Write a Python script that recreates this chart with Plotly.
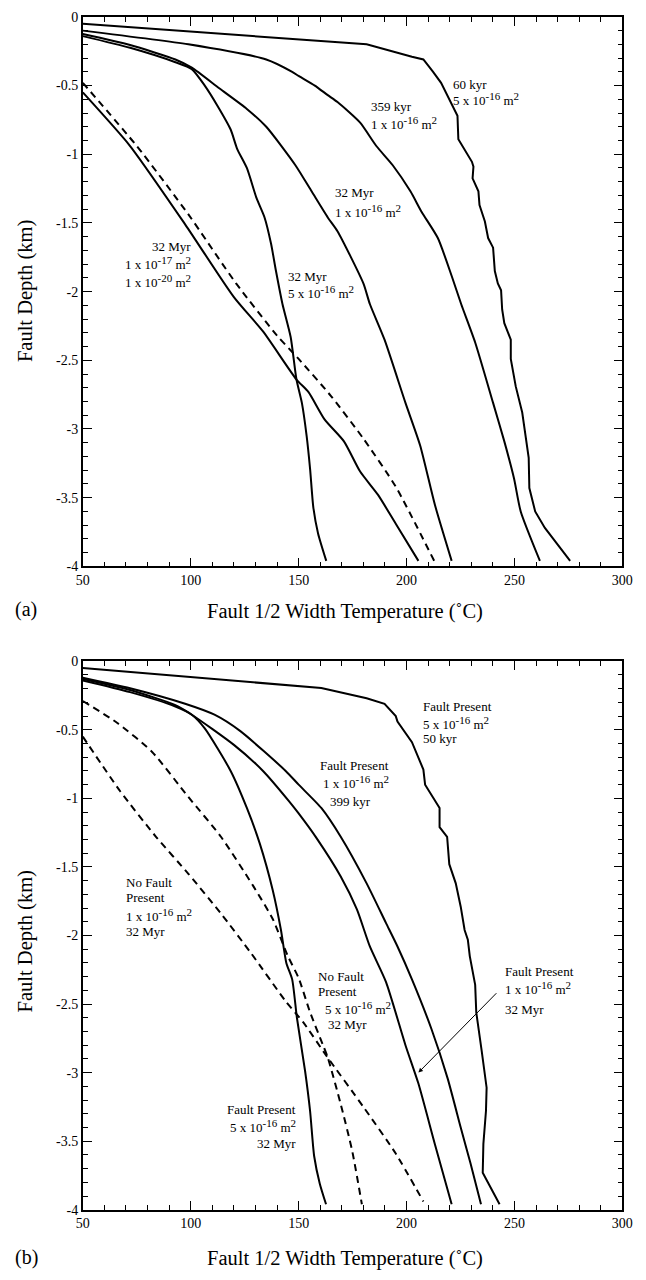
import plotly.graph_objects as go

# ---------------- data (temperature degC, depth km) ----------------
# Panel (a)
a_60kyr_5e16_T = [50, 163.5, 181.5, 202.5, 207.8, 212.3, 216, 223.6, 224, 230.3, 231, 230.6, 233.3, 233.8, 236.3,
                  237.8, 240.1, 240.9, 242.3, 243.8, 244.3, 245.3, 248.3, 248.3, 250.6, 253.6, 255.1, 256.6, 256.9,
                  259.6, 264.1, 270.1, 275.8]
a_60kyr_5e16_D = [-0.05, -0.18, -0.2, -0.29, -0.31, -0.40, -0.48, -0.72, -0.89, -1.055, -1.09, -1.175, -1.27, -1.37,
                  -1.49, -1.61, -1.68, -1.85, -1.94, -1.99, -2.13, -2.23, -2.35, -2.49, -2.69, -2.88, -3.05, -3.21,
                  -3.43, -3.60, -3.72, -3.84, -3.96]

a_359kyr_1e16_T = [50, 98.9, 135, 147, 150, 157.5, 163.5, 168, 178.5, 186, 193.6, 201.8, 207, 214.5, 221, 225.3,
                   231.8, 240.1, 245.3, 249.8, 252.9, 261.8]
a_359kyr_1e16_D = [-0.10, -0.20, -0.31, -0.40, -0.43, -0.50, -0.57, -0.62, -0.77, -0.94, -1.08, -1.27, -1.42, -1.61,
                   -1.89, -2.09, -2.37, -2.81, -3.09, -3.36, -3.60, -3.96]

a_32Myr_1e16_T = [50, 71.9, 92.9, 100.5, 113.2, 126, 135, 148.5, 156, 163.5, 168, 180, 183, 189.8, 199.5, 206.3,
                  213.1, 220.9]
a_32Myr_1e16_D = [-0.125, -0.205, -0.31, -0.37, -0.52, -0.67, -0.80, -1.08, -1.27, -1.46, -1.56, -1.94, -2.09, -2.35,
                  -2.81, -3.12, -3.55, -3.96]

a_32Myr_5e16_T = [50, 71.9, 92.9, 100.5, 106.5, 112.5, 118.5, 121.5, 126, 130.5, 134.2, 137.2, 139.5, 142.5, 146.3,
                  149, 151.5, 153.7, 155.3, 156.8, 159, 162.8]
a_32Myr_5e16_D = [-0.14, -0.225, -0.33, -0.38, -0.50, -0.65, -0.82, -0.96, -1.10, -1.32, -1.46, -1.65, -1.85, -2.09,
                  -2.33, -2.64, -2.81, -3.05, -3.29, -3.57, -3.76, -3.96]

a_32Myr_1e17_T = [50, 71.9, 97.4, 120, 133.5, 149, 154.5, 162, 171, 178.5, 186.8, 195, 205.5]
a_32Myr_1e17_D = [-0.55, -0.94, -1.51, -2.04, -2.29, -2.64, -2.73, -2.93, -3.09, -3.31, -3.48, -3.69, -3.96]

a_32Myr_1e20_T = [50, 75, 99, 121, 140, 150, 165, 180, 195, 212.8]
a_32Myr_1e20_D = [-0.48, -0.94, -1.44, -1.94, -2.32, -2.49, -2.76, -3.07, -3.42, -3.96]

# Panel (b)
b_fault_5e16_50kyr_T = [50, 150, 160.5, 181.5, 189.8, 195, 195.8, 202.5, 207.8, 208.6, 215.3, 215.3, 218.8, 219.8,
                        222.8, 225.1, 226.9, 228.4, 229.3, 231.8, 232.3, 234.8, 237.1, 236.8, 235.6, 235.3, 238.6,
                        243.1]
b_fault_5e16_50kyr_D = [-0.05, -0.178, -0.195, -0.27, -0.31, -0.40, -0.44, -0.59, -0.79, -0.90, -1.07, -1.21, -1.28,
                        -1.48, -1.62, -1.79, -1.96, -2.03, -2.15, -2.36, -2.56, -2.84, -3.11, -3.28, -3.52, -3.73,
                        -3.83, -3.96]

b_fault_1e16_399kyr_T = [50, 71.9, 97.4, 111, 123, 144, 150, 160.5, 169.5, 181.5, 190.5, 195.8, 202.5, 211.5, 219,
                         225.1, 229.6, 234.5]
b_fault_1e16_399kyr_D = [-0.12, -0.197, -0.31, -0.39, -0.51, -0.80, -0.90, -1.07, -1.28, -1.62, -1.91, -2.08, -2.32,
                         -2.68, -3.04, -3.40, -3.66, -3.96]

b_fault_1e16_32Myr_T = [50, 71.9, 92.9, 100.5, 120, 133.5, 145.5, 150, 158.3, 169.5, 177, 183, 190.5, 199.5, 205.5,
                        213.1, 220.9]
b_fault_1e16_32Myr_D = [-0.13, -0.21, -0.32, -0.39, -0.61, -0.80, -1.02, -1.11, -1.29, -1.57, -1.81, -2.08, -2.34,
                        -2.80, -3.08, -3.52, -3.96]

b_fault_5e16_32Myr_T = [50, 71.9, 92.9, 100.5, 106.5, 118.5, 126, 132, 138, 141.8, 144.3, 147, 149.2, 153, 155.3,
                        157.2, 159.8, 162.7]
b_fault_5e16_32Myr_D = [-0.14, -0.225, -0.33, -0.39, -0.49, -0.80, -1.07, -1.33, -1.67, -1.96, -2.20, -2.32, -2.60,
                        -2.99, -3.28, -3.61, -3.81, -3.96]

b_nofault_5e16_T = [50, 66, 82, 98.9, 114, 129, 138, 145, 150, 155.3, 161.3, 163.5, 169.5, 174.8, 179.3]
b_nofault_5e16_D = [-0.29, -0.45, -0.66, -0.99, -1.28, -1.64, -1.88, -2.15, -2.31, -2.56, -2.80, -2.89, -3.23, -3.57,
                    -3.96]

b_nofault_1e16_T = [50, 67.4, 83.9, 98.9, 114, 128, 144, 152, 163, 180, 195, 207.8]
b_nofault_1e16_D = [-0.55, -0.95, -1.28, -1.55, -1.84, -2.13, -2.48, -2.63, -2.88, -3.25, -3.59, -3.94]

# tick labels
x_tick_values = [50, 100, 150, 200, 250, 300]
x_tick_labels = ["50", "100", "150", "200", "250", "300"]
y_tick_values = [0, -0.5, -1, -1.5, -2, -2.5, -3, -3.5, -4]
y_tick_labels = ["0", "-0.5", "-1", "-1.5", "-2", "-2.5", "-3", "-3.5", "-4"]


def perm(coef, exp):
    return (f"{coef} x 10<sup><span style='font-size:11px'>{exp}</span></sup>"
            f" m<sup><span style='font-size:11px'>2</span></sup>")


E16_5 = perm(5, "-16")
E16_1 = perm(1, "-16")
E17_1 = perm(1, "-17")
E20_1 = perm(1, "-20")

# ---------------- figure ----------------
FONT = "Liberation Serif, DejaVu Serif, serif"
W, H = 646, 1280
fig = go.Figure()

solid = dict(color="black", width=2)
solid_s = dict(color="black", width=2, shape="spline", smoothing=0.6)
dashed_s = dict(color="black", width=2, dash="7px,5px", shape="spline", smoothing=0.6)

panel_a = [
    (a_60kyr_5e16_T, a_60kyr_5e16_D, solid),
    (a_359kyr_1e16_T, a_359kyr_1e16_D, solid_s),
    (a_32Myr_1e16_T, a_32Myr_1e16_D, solid_s),
    (a_32Myr_5e16_T, a_32Myr_5e16_D, solid_s),
    (a_32Myr_1e17_T, a_32Myr_1e17_D, solid_s),
    (a_32Myr_1e20_T, a_32Myr_1e20_D, dashed_s),
]
panel_b = [
    (b_fault_5e16_50kyr_T, b_fault_5e16_50kyr_D, solid),
    (b_fault_1e16_399kyr_T, b_fault_1e16_399kyr_D, solid_s),
    (b_fault_1e16_32Myr_T, b_fault_1e16_32Myr_D, solid_s),
    (b_fault_5e16_32Myr_T, b_fault_5e16_32Myr_D, solid_s),
    (b_nofault_5e16_T, b_nofault_5e16_D, dashed_s),
    (b_nofault_1e16_T, b_nofault_1e16_D, dashed_s),
]
for t, d, ln in panel_a:
    fig.add_trace(go.Scatter(x=t, y=d, mode="lines", line=ln, xaxis="x", yaxis="y", hoverinfo="skip"))
for t, d, ln in panel_b:
    fig.add_trace(go.Scatter(x=t, y=d, mode="lines", line=ln, xaxis="x2", yaxis="y2", hoverinfo="skip"))


def px_x(p):
    return p / W


def px_y(p):
    return 1 - p / H


xdom = [px_x(78), px_x(633)]
common = dict(showline=True, linecolor="black", linewidth=1.5, mirror="ticks", ticks="inside",
              ticklen=9, tickwidth=1, tickcolor="black", showgrid=False, zeroline=False,
              tickfont=dict(family=FONT, size=14, color="black"))
xcommon = dict(common, range=[50, 300], tickmode="array", tickvals=x_tick_values, ticktext=x_tick_labels,
               minor=dict(ticks="inside", ticklen=5, tickwidth=1, tickcolor="black", tickmode="linear",
                          tick0=50, dtick=10, showgrid=False))
ycommon = dict(common, range=[-4, 0], tickmode="array", tickvals=y_tick_values, ticktext=y_tick_labels,
               minor=dict(ticks="inside", ticklen=5, tickwidth=1, tickcolor="black", tickmode="linear",
                          tick0=0, dtick=0.1, showgrid=False))

fig.update_layout(
    width=W, height=H, margin=dict(l=0, r=0, t=0, b=0),
    paper_bgcolor="white", plot_bgcolor="white", showlegend=False,
    font=dict(family=FONT, color="black"),
    xaxis=dict(xcommon, domain=xdom, anchor="y"),
    yaxis=dict(ycommon, domain=[px_y(566), px_y(10)], anchor="x"),
    xaxis2=dict(xcommon, domain=xdom, anchor="y2"),
    yaxis2=dict(ycommon, domain=[px_y(1217), px_y(662)], anchor="x2"),
)

ann = []


def lab(text, x, y, axis, anchor="left"):
    xr, yr = ("x", "y") if axis == "a" else ("x2", "y2")
    ann.append(dict(text=text, x=x, y=y, xref=xr, yref=yr, xanchor=anchor, yanchor="middle",
                    showarrow=False, font=dict(family=FONT, size=13, color="black")))


# panel (a) labels
lab("60 kyr", 220.7, -0.49, "a")
lab(E16_5, 220.7, -0.60, "a")
lab("359 kyr", 182.7, -0.65, "a")
lab(E16_1, 182.7, -0.77, "a")
lab("32 Myr", 165.8, -1.28, "a")
lab(E16_1, 165.8, -1.41, "a")
lab("32 Myr", 144.3, -1.89, "a")
lab(E16_5, 144.3, -2.00, "a")
lab("32 Myr", 101.2, -1.67, "a", "right")
lab(E17_1, 101.2, -1.79, "a", "right")
lab(E20_1, 101.2, -1.92, "a", "right")

# panel (b) labels
lab("Fault Present", 206.8, -0.33, "b")
lab(E16_5, 206.8, -0.45, "b")
lab("50 kyr", 206.8, -0.565, "b")
lab("Fault Present", 159, -0.76, "b")
lab(E16_1, 160.5, -0.88, "b")
lab("399 kyr", 163.5, -1.02, "b")
lab("No Fault", 69.2, -1.615, "b")
lab("Present", 69.2, -1.72, "b")
lab(E16_1, 69.2, -1.85, "b")
lab("32 Myr", 69.2, -1.97, "b")
lab("No Fault", 158.2, -2.30, "b")
lab("Present", 158.2, -2.405, "b")
lab(E16_5, 161.3, -2.53, "b")
lab("32 Myr", 162.8, -2.65, "b")
lab("Fault Present", 244.6, -2.26, "b")
lab(E16_1, 244.6, -2.38, "b")
lab("32 Myr", 244.6, -2.54, "b")
lab("Fault Present", 149.7, -3.27, "b", "right")
lab(E16_5, 149.7, -3.39, "b", "right")
lab("32 Myr", 149.7, -3.52, "b", "right")

# arrow in panel (b)
ann.append(dict(x=205.5, y=-3.0, ax=242.3, ay=-2.41, xref="x2", yref="y2", axref="x2", ayref="y2",
                text="", showarrow=True, arrowhead=2, arrowsize=0.9, arrowwidth=1, arrowcolor="black"))

# axis titles and panel letters
for yc in (611.7, 1266.7):
    ann.append(dict(text="Fault 1/2 Width Temperature (˚C)", x=px_x(347.5), y=px_y(yc), xref="paper",
                    yref="paper", xanchor="center", yanchor="middle", showarrow=False,
                    font=dict(family=FONT, size=20.5, color="black")))
for yc in (287, 945):
    ann.append(dict(text="Fault Depth (km)", x=px_x(19), y=px_y(yc), xref="paper", yref="paper",
                    xanchor="center", yanchor="middle", textangle=-90, showarrow=False,
                    font=dict(family=FONT, size=20.5, color="black")))
for txt, yc in (("(a)", 610), ("(b)", 1265)):
    ann.append(dict(text=txt, x=px_x(20), y=px_y(yc), xref="paper", yref="paper", xanchor="center",
                    yanchor="middle", showarrow=False, font=dict(family=FONT, size=20, color="black")))

fig.update_layout(annotations=ann)
fig.write_html("out.html")
